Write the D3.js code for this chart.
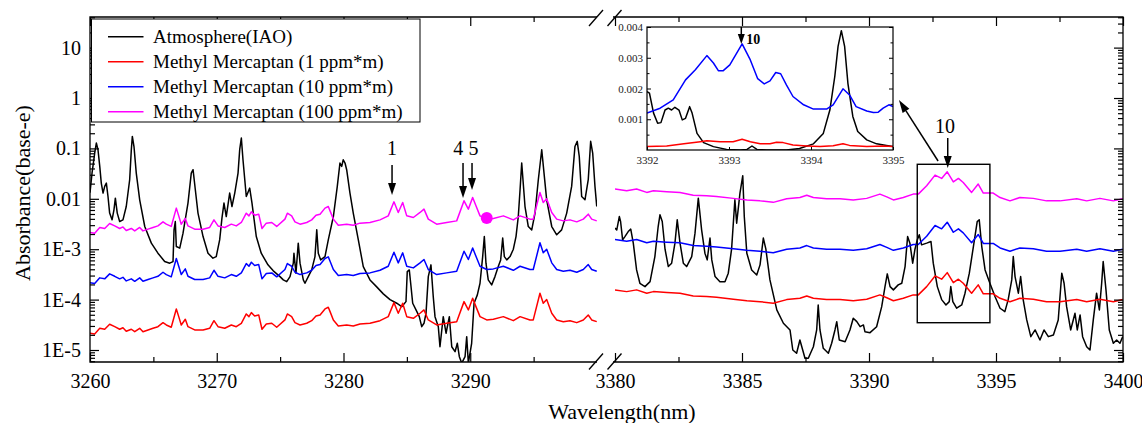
<!DOCTYPE html>
<html lang="en">
<head>
<meta charset="UTF-8">
<title>Absorbance spectra - Methyl Mercaptan</title>
<script src="https://cdn.jsdelivr.net/npm/d3@7"></script>
<style>
    body { margin: 0; background: #ffffff; }
    svg { display: block; font-family: 'Liberation Serif', 'Times New Roman', serif; }
    .axis path { display: none; }
    .axis line { stroke: #000; stroke-width: 1.2; }
    .axis text { font-size: 20px; fill: #000; font-family: 'Liberation Serif', 'Times New Roman', serif; }
    .inset .axis line { stroke-width: 1; }
    .inset .axis text { font-size: 11px; fill: #222; }
    .spec { fill: none; stroke-width: 1.5; stroke-linejoin: round; }
    .frame { fill: none; stroke: #000; stroke-width: 1.3; }
</style>
</head>
<body>
<svg id="chart" width="1142" height="423"></svg>
<script>
// ---------- data ----------
var seriesNames = ["Atmosphere(IAO)", "Methyl Mercaptan (1 ppm*m)", "Methyl Mercaptan (10 ppm*m)", "Methyl Mercaptan (100 ppm*m)"];
var seriesColors = ["#000000", "#ff0000", "#0000ff", "#ff00ff"];

var yTickValues = [1e-5, 1e-4, 1e-3, 1e-2, 0.1, 1, 10];
var yTickLabels = ["1E-5", "1E-4", "1E-3", "0.01", "0.1", "1", "10"];
var xTicksLeft = [3260, 3270, 3280, 3290];
var xTicksRight = [3380, 3385, 3390, 3395, 3400];

// atmosphere (IAO), left part [wavelength nm, absorbance]
var atmLeft = [
    [3260.00, 0.0132], [3260.16, 0.0324], [3260.37, 0.0809], [3260.50, 0.128], [3260.63, 0.0942],
    [3260.77, 0.0439], [3260.89, 0.0205], [3261.03, 0.0130], [3261.16, 0.0176], [3261.29, 0.0205],
    [3261.42, 0.0111], [3261.55, 0.0052], [3261.74, 0.00383], [3261.89, 0.00605], [3262.00, 0.0103],
    [3262.15, 0.0052], [3262.34, 0.00354], [3262.60, 0.00383], [3262.86, 0.00703], [3263.13, 0.0239],
    [3263.26, 0.0942], [3263.34, 0.173], [3263.47, 0.109], [3263.65, 0.0324], [3263.92, 0.00955],
    [3264.32, 0.00282], [3264.84, 0.00132], [3265.36, 0.000834], [3265.89, 0.000568], [3266.29, 0.000528],
    [3266.55, 0.000568], [3266.63, 0.00242], [3266.73, 0.00354], [3266.81, 0.00113], [3267.08, 0.00105],
    [3267.34, 0.00208], [3267.73, 0.00822], [3267.99, 0.0324], [3268.13, 0.0378], [3268.31, 0.0151],
    [3268.52, 0.0052], [3268.92, 0.00178], [3269.31, 0.000834], [3269.70, 0.000664], [3269.96, 0.000714],
    [3270.23, 0.00153], [3270.41, 0.00414], [3270.57, 0.00822], [3270.75, 0.00445], [3271.02, 0.0130],
    [3271.20, 0.00703], [3271.42, 0.0130], [3271.68, 0.0324], [3271.81, 0.0942], [3271.94, 0.161],
    [3272.07, 0.0596], [3272.33, 0.0111], [3272.60, 0.0163], [3272.78, 0.00822], [3273.12, 0.00178],
    [3273.51, 0.000834], [3274.04, 0.000489], [3274.46, 0.000372], [3274.99, 0.000286], [3275.25, 0.000246],
    [3275.52, 0.000227], [3275.78, 0.000286], [3276.04, 0.000528], [3276.09, 0.000834], [3276.25, 0.000334],
    [3276.43, 0.00132], [3276.57, 0.000528], [3276.83, 0.000246], [3276.96, 0.000211], [3277.22, 0.000286],
    [3277.49, 0.000388], [3277.75, 0.000714], [3277.89, 0.00242], [3278.01, 0.000834], [3278.20, 0.000614],
    [3278.54, 0.000714], [3278.80, 0.00153], [3279.20, 0.00445], [3279.51, 0.0176], [3279.72, 0.0513],
    [3279.86, 0.0439], [3279.98, 0.0596], [3280.12, 0.0513], [3280.25, 0.0378], [3280.51, 0.0130],
    [3280.77, 0.0052], [3281.17, 0.00153], [3281.56, 0.000452], [3282.09, 0.000246], [3282.62, 0.000179],
    [3283.14, 0.000130], [3283.67, 0.000100], [3284.20, 0.0000847], [3284.59, 0.0000725], [3284.93, 0.0000912],
    [3285.03, 0.000359], [3285.19, 0.000388], [3285.30, 0.000211], [3285.46, 0.0000847], [3285.72, 0.0000624],
    [3285.98, 0.0000459], [3286.17, 0.0000290], [3286.35, 0.0000339], [3286.51, 0.0000536], [3286.69, 0.000286],
    [3286.90, 0.000489], [3287.08, 0.000115], [3287.22, 0.0000459], [3287.48, 0.0000290], [3287.61, 0.0000116],
    [3287.87, 0.0000459], [3288.09, 0.0000215], [3288.35, 0.0000459], [3288.54, 0.0000116], [3288.80, 0.00000925],
    [3288.98, 0.0000136], [3289.14, 0.00000736], [3289.33, 0.0000055], [3289.59, 0.00000736], [3289.72, 0.0000184],
    [3289.85, 0.0000055], [3290.11, 0.0000136], [3290.30, 0.0000847], [3290.56, 0.000124], [3290.77, 0.000211],
    [3290.98, 0.000714], [3291.11, 0.00178], [3291.24, 0.000528], [3291.42, 0.000246], [3291.69, 0.000196],
    [3291.95, 0.000286], [3292.21, 0.000452], [3292.40, 0.000614], [3292.56, 0.00166], [3292.69, 0.000714],
    [3292.88, 0.000614], [3293.14, 0.000714], [3293.40, 0.00100], [3293.61, 0.00178], [3293.79, 0.00445],
    [3293.93, 0.0151], [3294.06, 0.0513], [3294.32, 0.00703], [3294.58, 0.00282], [3294.85, 0.00242],
    [3295.11, 0.0052], [3295.37, 0.0239], [3295.64, 0.0942], [3295.82, 0.0324], [3296.03, 0.00955],
    [3296.43, 0.00282], [3296.82, 0.00193], [3297.21, 0.00242], [3297.61, 0.0052], [3298.00, 0.0176],
    [3298.26, 0.109], [3298.44, 0.138], [3298.60, 0.0694], [3298.79, 0.0111], [3299.05, 0.00955],
    [3299.31, 0.0239], [3299.50, 0.138], [3299.66, 0.0809], [3299.84, 0.0176], [3299.98, 0.00703]
];

// atmosphere (IAO), right part
var atmRight = [
    [3380.00, 0.00262], [3380.07, 0.00242], [3380.17, 0.00445], [3380.22, 0.00354], [3380.30, 0.00153],
    [3380.39, 0.00178], [3380.52, 0.00224], [3380.62, 0.00250], [3380.72, 0.00132], [3380.85, 0.000388],
    [3380.98, 0.000211], [3381.18, 0.000181], [3381.38, 0.000227], [3381.57, 0.000714], [3381.70, 0.00282],
    [3381.77, 0.00481], [3381.86, 0.00354], [3381.97, 0.00100], [3382.10, 0.000452], [3382.23, 0.000528],
    [3382.36, 0.00132], [3382.45, 0.00383], [3382.56, 0.00132], [3382.69, 0.000528], [3382.82, 0.000452],
    [3383.02, 0.000714], [3383.15, 0.00208], [3383.28, 0.0103], [3383.41, 0.00242], [3383.54, 0.000834],
    [3383.63, 0.000614], [3383.74, 0.00166], [3383.81, 0.000614], [3383.94, 0.000286], [3384.13, 0.000227],
    [3384.33, 0.000227], [3384.46, 0.000334], [3384.59, 0.00100], [3384.72, 0.00955], [3384.79, 0.00329],
    [3384.92, 0.0130], [3385.03, 0.0287], [3385.09, 0.00445], [3385.19, 0.000834], [3385.38, 0.000388],
    [3385.58, 0.000309], [3385.71, 0.000489], [3385.84, 0.00166], [3385.94, 0.00100], [3386.10, 0.000246],
    [3386.37, 0.0000624], [3386.63, 0.0000339], [3386.89, 0.0000250], [3387.00, 0.0000100], [3387.15, 0.0000086],
    [3387.28, 0.0000158], [3387.39, 0.0000100], [3387.48, 0.00000684], [3387.61, 0.00000684], [3387.81, 0.0000116],
    [3387.94, 0.0000250], [3388.00, 0.0000784], [3388.07, 0.0000250], [3388.20, 0.0000108], [3388.40, 0.0000086],
    [3388.53, 0.0000136], [3388.66, 0.0000250], [3388.73, 0.0000365], [3388.83, 0.0000158], [3389.06, 0.0000146],
    [3389.25, 0.0000250], [3389.38, 0.0000426], [3389.52, 0.0000365], [3389.65, 0.0000290], [3389.78, 0.0000314],
    [3389.84, 0.0000231], [3390.04, 0.0000221], [3390.30, 0.0000290], [3390.50, 0.0000725], [3390.63, 0.000181],
    [3390.72, 0.000324], [3390.83, 0.000181], [3390.96, 0.000156], [3391.15, 0.000196], [3391.29, 0.000211],
    [3391.42, 0.000452], [3391.52, 0.00178], [3391.61, 0.00132], [3391.72, 0.000528], [3391.81, 0.00100],
    [3391.90, 0.00153], [3391.98, 0.00193], [3392.07, 0.00122], [3392.27, 0.00132], [3392.44, 0.00142],
    [3392.53, 0.000528], [3392.69, 0.000181], [3392.86, 0.000100], [3393.03, 0.0000784], [3393.16, 0.0000912],
    [3393.22, 0.000181], [3393.30, 0.0000912], [3393.45, 0.0000674], [3393.65, 0.0000784], [3393.78, 0.000134],
    [3393.95, 0.000334], [3394.11, 0.00113], [3394.26, 0.00354], [3394.34, 0.00383], [3394.44, 0.00113],
    [3394.57, 0.000388], [3394.76, 0.000211], [3394.96, 0.000115], [3395.16, 0.0000674], [3395.35, 0.0000577],
    [3395.48, 0.000100], [3395.62, 0.000246], [3395.68, 0.000714], [3395.75, 0.000286], [3395.88, 0.000134],
    [3395.97, 0.000286], [3396.07, 0.000100], [3396.21, 0.0000395], [3396.37, 0.0000184], [3396.54, 0.0000250],
    [3396.73, 0.0000158], [3396.89, 0.0000250], [3397.06, 0.0000184], [3397.26, 0.0000199], [3397.45, 0.0000395],
    [3397.59, 0.000334], [3397.68, 0.000211], [3397.78, 0.0000725], [3397.94, 0.0000250], [3398.11, 0.0000536],
    [3398.20, 0.0000250], [3398.31, 0.0000496], [3398.41, 0.0000184], [3398.57, 0.0000116], [3398.70, 0.0000100],
    [3398.83, 0.0000395], [3398.96, 0.000134], [3399.07, 0.0000624], [3399.16, 0.000211], [3399.22, 0.000568],
    [3399.33, 0.000156], [3399.46, 0.0000250], [3399.62, 0.0000136], [3399.75, 0.0000158], [3399.88, 0.0000136],
    [3399.99, 0.0000184]
];

// methyl mercaptan, left part (shared wavelengths)
var mmLeftWl = [
    3260.00, 3260.37, 3260.77, 3261.16, 3261.55, 3261.95, 3262.34, 3262.60, 3262.86, 3263.26,
    3263.53, 3263.92, 3264.18, 3264.58, 3264.97, 3265.36, 3265.76, 3266.02, 3266.41, 3266.81,
    3267.00, 3267.20, 3267.52, 3267.73, 3268.26, 3268.92, 3269.44, 3269.78, 3270.10, 3270.63,
    3271.15, 3271.54, 3271.94, 3272.33, 3272.54, 3272.73, 3272.99, 3273.31, 3273.57, 3273.91,
    3274.34, 3274.73, 3275.38, 3275.57, 3275.91, 3276.17, 3276.57, 3277.10, 3277.49, 3277.83,
    3278.15, 3278.54, 3278.80, 3278.94, 3279.20, 3279.59, 3280.25, 3280.77, 3281.30, 3282.09,
    3282.88, 3283.53, 3283.98, 3284.32, 3284.67, 3284.99, 3285.51, 3286.04, 3286.35, 3286.69,
    3287.35, 3288.14, 3288.93, 3289.51, 3289.85, 3290.19, 3290.45, 3290.77, 3291.30, 3291.82,
    3292.61, 3293.40, 3293.93, 3294.71, 3294.97, 3295.50, 3295.76, 3296.03, 3296.43, 3296.82,
    3297.34, 3297.87, 3298.40, 3298.92, 3299.31, 3299.58, 3299.98
];
var mm1Left = [
    2.15e-5, 2.08e-5, 2.70e-5, 2.58e-5, 3.24e-5, 2.90e-5, 2.58e-5, 2.77e-5, 2.35e-5, 2.58e-5,
    2.31e-5, 2.70e-5, 2.31e-5, 2.50e-5, 2.70e-5, 2.90e-5, 3.49e-5, 3.14e-5, 2.83e-5, 6.53e-5,
    4.59e-5, 3.14e-5, 4.07e-5, 2.90e-5, 2.50e-5, 2.50e-5, 2.70e-5, 3.82e-5, 2.90e-5, 2.70e-5,
    3.14e-5, 2.90e-5, 3.39e-5, 5.19e-5, 4.59e-5, 5.51e-5, 4.74e-5, 4.96e-5, 2.58e-5, 3.29e-5,
    3.39e-5, 2.83e-5, 3.95e-5, 5.19e-5, 4.59e-5, 3.49e-5, 3.14e-5, 3.39e-5, 3.82e-5, 4.74e-5,
    4.96e-5, 6.53e-5, 7.05e-5, 5.77e-5, 3.95e-5, 3.00e-5, 3.14e-5, 3.00e-5, 3.29e-5, 3.39e-5,
    3.82e-5, 4.59e-5, 8.71e-5, 5.36e-5, 8.47e-5, 4.59e-5, 4.26e-5, 5.36e-5, 6.24e-5, 3.95e-5,
    3.14e-5, 3.39e-5, 3.65e-5, 9.12e-5, 6.24e-5, 1.06e-4, 7.25e-5, 4.59e-5, 3.95e-5, 4.07e-5,
    4.59e-5, 3.82e-5, 4.59e-5, 3.95e-5, 3.95e-5, 1.34e-4, 8.47e-5, 1.00e-4, 5.36e-5, 3.95e-5,
    3.65e-5, 3.82e-5, 3.49e-5, 3.95e-5, 4.96e-5, 3.95e-5, 3.65e-5
];
var mm10Left = [
    2.15e-4, 2.08e-4, 2.70e-4, 2.58e-4, 3.24e-4, 2.90e-4, 2.58e-4, 2.77e-4, 2.35e-4, 2.58e-4,
    2.31e-4, 2.70e-4, 2.31e-4, 2.50e-4, 2.70e-4, 2.90e-4, 3.49e-4, 3.14e-4, 2.83e-4, 6.53e-4,
    4.59e-4, 3.14e-4, 4.07e-4, 2.90e-4, 2.50e-4, 2.50e-4, 2.70e-4, 3.82e-4, 2.90e-4, 2.70e-4,
    3.14e-4, 2.90e-4, 3.39e-4, 5.19e-4, 4.59e-4, 5.51e-4, 4.74e-4, 4.96e-4, 2.58e-4, 3.29e-4,
    3.39e-4, 2.83e-4, 3.95e-4, 5.19e-4, 4.59e-4, 3.49e-4, 3.14e-4, 3.39e-4, 3.82e-4, 4.74e-4,
    4.96e-4, 6.53e-4, 7.05e-4, 5.77e-4, 3.95e-4, 3.00e-4, 3.14e-4, 3.00e-4, 3.29e-4, 3.39e-4,
    3.82e-4, 4.59e-4, 8.71e-4, 5.36e-4, 8.47e-4, 4.59e-4, 4.26e-4, 5.36e-4, 6.24e-4, 3.95e-4,
    3.14e-4, 3.39e-4, 3.65e-4, 9.12e-4, 6.24e-4, 1.06e-3, 7.25e-4, 4.59e-4, 3.95e-4, 4.07e-4,
    4.59e-4, 3.82e-4, 4.59e-4, 3.95e-4, 3.95e-4, 1.34e-3, 8.47e-4, 1.00e-3, 5.36e-4, 3.95e-4,
    3.65e-4, 3.82e-4, 3.49e-4, 3.95e-4, 4.96e-4, 3.95e-4, 3.65e-4
];
var mm100Left = [
    2.15e-3, 2.08e-3, 2.70e-3, 2.58e-3, 3.24e-3, 2.90e-3, 2.58e-3, 2.77e-3, 2.35e-3, 2.58e-3,
    2.31e-3, 2.70e-3, 2.31e-3, 2.50e-3, 2.70e-3, 2.90e-3, 3.49e-3, 3.14e-3, 2.83e-3, 6.53e-3,
    4.59e-3, 3.14e-3, 4.07e-3, 2.90e-3, 2.50e-3, 2.50e-3, 2.70e-3, 3.82e-3, 2.90e-3, 2.70e-3,
    3.14e-3, 2.90e-3, 3.39e-3, 5.19e-3, 4.59e-3, 5.51e-3, 4.74e-3, 4.96e-3, 2.58e-3, 3.29e-3,
    3.39e-3, 2.83e-3, 3.95e-3, 5.19e-3, 4.59e-3, 3.49e-3, 3.14e-3, 3.39e-3, 3.82e-3, 4.74e-3,
    4.96e-3, 6.53e-3, 7.05e-3, 5.77e-3, 3.95e-3, 3.00e-3, 3.14e-3, 3.00e-3, 3.29e-3, 3.39e-3,
    3.82e-3, 4.59e-3, 8.71e-3, 5.36e-3, 8.47e-3, 4.59e-3, 4.26e-3, 5.36e-3, 6.24e-3, 3.95e-3,
    3.14e-3, 3.39e-3, 3.65e-3, 9.12e-3, 6.24e-3, 1.06e-2, 7.25e-3, 4.59e-3, 3.95e-3, 4.07e-3,
    4.59e-3, 3.82e-3, 4.59e-3, 3.95e-3, 3.95e-3, 1.34e-2, 8.47e-3, 1.00e-2, 5.36e-3, 3.95e-3,
    3.65e-3, 3.82e-3, 3.49e-3, 3.95e-3, 4.96e-3, 3.95e-3, 3.65e-3
];

// methyl mercaptan, right part (shared wavelengths)
var mmRightWl = [
    3380.00, 3380.46, 3380.85, 3381.25, 3381.51, 3382.04, 3382.56, 3383.08, 3383.61, 3384.00,
    3384.66, 3385.19, 3385.71, 3386.23, 3386.76, 3387.28, 3387.55, 3387.81, 3388.33, 3388.86,
    3389.38, 3389.91, 3390.43, 3390.70, 3390.96, 3391.35, 3391.74, 3391.94, 3392.27, 3392.60,
    3392.86, 3393.08, 3393.32, 3393.52, 3393.71, 3394.04, 3394.30, 3394.50, 3394.89, 3395.16,
    3395.55, 3395.94, 3396.47, 3396.99, 3397.52, 3398.18, 3398.57, 3399.09, 3399.62, 3399.99
];
var mm1Right = [
    1.56e-4, 1.44e-4, 1.56e-4, 1.34e-4, 1.44e-4, 1.38e-4, 1.34e-4, 1.18e-4, 1.15e-4, 1.11e-4,
    1.02e-4, 9.5e-5, 9.1e-5, 8.5e-5, 1.00e-4, 1.06e-4, 1.18e-4, 1.06e-4, 1.00e-4, 1.00e-4,
    9.5e-5, 1.02e-4, 1.24e-4, 1.09e-4, 9.5e-5, 1.06e-4, 1.24e-4, 1.24e-4, 1.81e-4, 2.95e-4,
    2.54e-4, 3.43e-4, 2.17e-4, 2.54e-4, 2.11e-4, 1.34e-4, 1.96e-4, 1.30e-4, 1.30e-4, 1.06e-4,
    9.1e-5, 1.06e-4, 1.02e-4, 9.1e-5, 9.1e-5, 1.00e-4, 9.1e-5, 1.02e-4, 9.1e-5, 1.00e-4
];
var mm10Right = [
    1.56e-3, 1.44e-3, 1.56e-3, 1.34e-3, 1.44e-3, 1.38e-3, 1.34e-3, 1.18e-3, 1.15e-3, 1.11e-3,
    1.02e-3, 9.5e-4, 9.1e-4, 8.5e-4, 1.00e-3, 1.06e-3, 1.18e-3, 1.06e-3, 1.00e-3, 1.00e-3,
    9.5e-4, 1.02e-3, 1.24e-3, 1.09e-3, 9.5e-4, 1.06e-3, 1.24e-3, 1.24e-3, 1.81e-3, 2.95e-3,
    2.54e-3, 3.43e-3, 2.17e-3, 2.54e-3, 2.11e-3, 1.34e-3, 1.96e-3, 1.30e-3, 1.30e-3, 1.06e-3,
    9.1e-4, 1.06e-3, 1.02e-3, 9.1e-4, 9.1e-4, 1.00e-3, 9.1e-4, 1.02e-3, 9.1e-4, 1.00e-3
];
var mm100Right = [
    1.56e-2, 1.44e-2, 1.56e-2, 1.34e-2, 1.44e-2, 1.38e-2, 1.34e-2, 1.18e-2, 1.15e-2, 1.11e-2,
    1.02e-2, 9.5e-3, 9.1e-3, 8.5e-3, 1.00e-2, 1.06e-2, 1.18e-2, 1.06e-2, 1.00e-2, 1.00e-2,
    9.5e-3, 1.02e-2, 1.24e-2, 1.09e-2, 9.5e-3, 1.06e-2, 1.24e-2, 1.24e-2, 1.81e-2, 2.95e-2,
    2.54e-2, 3.43e-2, 2.17e-2, 2.54e-2, 2.11e-2, 1.34e-2, 1.96e-2, 1.30e-2, 1.30e-2, 1.06e-2,
    9.1e-3, 1.06e-2, 1.02e-2, 9.1e-3, 9.1e-3, 1.00e-2, 9.1e-3, 1.02e-2, 9.1e-3, 1.00e-2
];

// inset (linear scale) 3392-3395 nm
var insetAtm = [
    [3392.00, 0.00190], [3392.03, 0.00185], [3392.08, 0.00120], [3392.13, 0.00087], [3392.17, 0.00089],
    [3392.22, 0.00130], [3392.26, 0.00136], [3392.30, 0.00130], [3392.34, 0.00139], [3392.39, 0.00130],
    [3392.43, 0.00098], [3392.47, 0.00103], [3392.52, 0.00141], [3392.55, 0.00120], [3392.61, 0.00054],
    [3392.69, 0.00024], [3392.81, 0.00011], [3392.97, 0.00002], [3393.14, 0.00000], [3393.22, 0.00002],
    [3393.28, 0.00013], [3393.34, 0.00002], [3393.46, 0.00000], [3393.70, 0.00000], [3393.86, 0.00005],
    [3394.03, 0.00020], [3394.15, 0.00054], [3394.23, 0.00130], [3394.29, 0.00239], [3394.33, 0.00337],
    [3394.37, 0.00388], [3394.41, 0.00337], [3394.45, 0.00217], [3394.51, 0.00109], [3394.57, 0.00060],
    [3394.68, 0.00033], [3394.80, 0.00020], [3394.92, 0.00015], [3395.00, 0.00011]
];
var insetMm1 = [
    [3392.00, 0.00011], [3392.24, 0.00013], [3392.45, 0.00020], [3392.65, 0.00027], [3392.73, 0.00030],
    [3392.89, 0.00027], [3393.05, 0.00027], [3393.16, 0.00035], [3393.26, 0.00027], [3393.38, 0.00020],
    [3393.50, 0.00020], [3393.58, 0.00025], [3393.66, 0.00024], [3393.78, 0.00016], [3393.95, 0.00013],
    [3394.11, 0.00011], [3394.27, 0.00014], [3394.39, 0.00020], [3394.47, 0.00015], [3394.68, 0.00011],
    [3394.88, 0.00013], [3395.00, 0.00011]
];
var insetMm10 = [
    [3392.00, 0.00120], [3392.16, 0.00136], [3392.32, 0.00163], [3392.47, 0.00228], [3392.59, 0.00261],
    [3392.73, 0.00307], [3392.81, 0.00283], [3392.87, 0.00258], [3392.93, 0.00258], [3393.01, 0.00277],
    [3393.16, 0.00345], [3393.26, 0.00293], [3393.35, 0.00232], [3393.43, 0.00215], [3393.50, 0.00225],
    [3393.57, 0.00252], [3393.63, 0.00248], [3393.70, 0.00212], [3393.78, 0.00174], [3393.91, 0.00147],
    [3394.03, 0.00133], [3394.19, 0.00133], [3394.27, 0.00147], [3394.39, 0.00199], [3394.47, 0.00179],
    [3394.55, 0.00141], [3394.68, 0.00127], [3394.76, 0.00122], [3394.82, 0.00123], [3394.88, 0.00136],
    [3394.95, 0.00147], [3395.00, 0.00141]
];
var insetYTicks = [0.001, 0.002, 0.003, 0.004];
var insetXTicks = [3392, 3393, 3394, 3395];

// annotations: peak numbers with arrows
var peakLabels = ["1", "4", "5"];
var peakLabelWl = [3283.83, 3289.05, 3290.25];
var peakArrowWl = [3283.83, 3289.43, 3290.14];
var peakArrowTop = [0.0467, 0.0512, 0.0512];
var peakArrowTip = [0.0119, 0.0104, 0.0150];
var markerPoint = [3291.3, 0.00414];
var zoomBox = [3391.90, 3394.76, 3.48e-5, 0.0484];

// ---------- layout ----------
var svg = d3.select("#chart");
var plotTop = 17, plotBottom = 362, plotLeft = 90, plotRight = 1123;

var xL = d3.scaleLinear().domain([3260, 3300]).range([plotLeft, 597]);
var xR = d3.scaleLinear().domain([3380, 3400]).range([615, plotRight]);
var y = d3.scaleLog().domain([5.78e-6, 40.5]).range([plotBottom, plotTop]);

var defs = svg.append("defs");
defs.append("clipPath").attr("id", "clipL").append("rect")
    .attr("x", xL.range()[0]).attr("y", plotTop)
    .attr("width", xL.range()[1] - xL.range()[0]).attr("height", plotBottom - plotTop);
defs.append("clipPath").attr("id", "clipR").append("rect")
    .attr("x", xR.range()[0]).attr("y", plotTop)
    .attr("width", xR.range()[1] - xR.range()[0]).attr("height", plotBottom - plotTop);

// minor log ticks
var minorY = [];
[1e-6, 1e-5, 1e-4, 1e-3, 1e-2, 0.1, 1, 10].forEach(function (dec) {
    for (var k = 2; k <= 9; k++) {
        var v = dec * k;
        if (v > y.domain()[0] && v < y.domain()[1]) minorY.push(v);
    }
});

// ---------- curves ----------
function drawPanel(x, clipId, atm, wl, mm1, mm10, mm100) {
    var line = d3.line().x(d => x(d[0])).y(d => y(d[1]));
    var g = svg.append("g").attr("clip-path", "url(#" + clipId + ")");
    var sets = [atm, d3.zip(wl, mm1), d3.zip(wl, mm10), d3.zip(wl, mm100)];
    sets.forEach(function (s, i) {
        g.append("path")
            .datum(s)
            .attr("class", "spec")
            .attr("stroke", seriesColors[i])
            .attr("d", line);
    });
}
drawPanel(xL, "clipL", atmLeft, mmLeftWl, mm1Left, mm10Left, mm100Left);
drawPanel(xR, "clipR", atmRight, mmRightWl, mm1Right, mm10Right, mm100Right);

svg.append("circle")
    .attr("cx", xL(markerPoint[0]))
    .attr("cy", y(markerPoint[1]))
    .attr("r", 6)
    .attr("fill", seriesColors[3]);

// ---------- axes ----------
// left y axis
svg.append("g").attr("class", "axis")
    .attr("transform", "translate(" + plotLeft + ",0)")
    .call(d3.axisLeft(y).tickValues(yTickValues)
        .tickFormat((d, i) => yTickLabels[i])
        .tickSizeInner(-9).tickSizeOuter(0).tickPadding(9));
svg.append("g").attr("class", "axis")
    .attr("transform", "translate(" + plotLeft + ",0)")
    .call(d3.axisLeft(y).tickValues(minorY).tickFormat("").tickSize(-5));

// right y axis
svg.append("g").attr("class", "axis")
    .attr("transform", "translate(" + plotRight + ",0)")
    .call(d3.axisRight(y).tickValues(yTickValues).tickFormat("").tickSize(-9));
svg.append("g").attr("class", "axis")
    .attr("transform", "translate(" + plotRight + ",0)")
    .call(d3.axisRight(y).tickValues(minorY).tickFormat("").tickSize(-5));

function xAxes(x, majors) {
    var minors = majors.slice(0, -1).map((d, i) => (d + majors[i + 1]) / 2);
    if (x === xL) minors.push(3295);
    svg.append("g").attr("class", "axis")
        .attr("transform", "translate(0," + plotBottom + ")")
        .call(d3.axisBottom(x).tickValues(majors).tickFormat(d3.format("d"))
            .tickSizeInner(-9).tickSizeOuter(0).tickPadding(12));
    svg.append("g").attr("class", "axis")
        .attr("transform", "translate(0," + plotBottom + ")")
        .call(d3.axisBottom(x).tickValues(minors).tickFormat("").tickSize(-5));
    svg.append("g").attr("class", "axis")
        .attr("transform", "translate(0," + plotTop + ")")
        .call(d3.axisTop(x).tickValues(majors).tickFormat("").tickSize(-9));
    svg.append("g").attr("class", "axis")
        .attr("transform", "translate(0," + plotTop + ")")
        .call(d3.axisTop(x).tickValues(minors).tickFormat("").tickSize(-5));
}
xAxes(xL, xTicksLeft);
xAxes(xR, xTicksRight);

// frame with a gap for the axis break
var gapL = xL.range()[1], gapR = xR.range()[0] - 2;
svg.append("path").attr("class", "frame")
    .attr("d", "M" + gapL + "," + plotTop + "H" + plotLeft + "V" + plotBottom + "H" + gapL +
        "M" + gapR + "," + plotTop + "H" + plotRight + "V" + plotBottom + "H" + gapR);

// break marks
[596, 614.5].forEach(function (cx) {
    [plotTop + 1, plotBottom - 0.5].forEach(function (cy) {
        svg.append("line")
            .attr("x1", cx - 7).attr("y1", cy + 8)
            .attr("x2", cx + 7).attr("y2", cy - 8)
            .attr("stroke", "#000").attr("stroke-width", 1.4);
    });
});

// axis titles
svg.append("text")
    .attr("x", 622).attr("y", 419)
    .attr("text-anchor", "middle")
    .style("font-size", "22px")
    .text("Wavelength(nm)");
svg.append("text")
    .attr("transform", "translate(22,193) rotate(-90)")
    .attr("text-anchor", "middle")
    .attr("dominant-baseline", "central")
    .style("font-size", "22px")
    .text("Absorbance(base-e)");

// ---------- annotations ----------
function arrow(x1, y1, x2, y2, headLen, headW) {
    var ang = Math.atan2(y2 - y1, x2 - x1);
    var bx = x2 - headLen * Math.cos(ang), by = y2 - headLen * Math.sin(ang);
    var px = -Math.sin(ang) * headW / 2, py = Math.cos(ang) * headW / 2;
    svg.append("line")
        .attr("x1", x1).attr("y1", y1).attr("x2", bx).attr("y2", by)
        .attr("stroke", "#000").attr("stroke-width", 1.5);
    svg.append("path")
        .attr("d", "M" + x2 + "," + y2 + "L" + (bx + px) + "," + (by + py) + "L" + (bx - px) + "," + (by - py) + "Z")
        .attr("fill", "#000");
}

peakLabels.forEach(function (lab, i) {
    svg.append("text")
        .attr("x", xL(peakLabelWl[i])).attr("y", 155)
        .attr("text-anchor", "middle")
        .style("font-size", "20px")
        .text(lab);
    arrow(xL(peakArrowWl[i]), y(peakArrowTop[i]), xL(peakArrowWl[i]), y(peakArrowTip[i]), 12, 8);
});

// peak 10 on the right panel
svg.append("text")
    .attr("x", xR(3392.99)).attr("y", 133)
    .attr("text-anchor", "middle")
    .style("font-size", "20px")
    .text("10");
arrow(xR(3393.10), y(0.161), xR(3393.10), y(0.0407), 12, 8);

svg.append("rect")
    .attr("x", xR(zoomBox[0])).attr("y", y(zoomBox[3]))
    .attr("width", xR(zoomBox[1]) - xR(zoomBox[0]))
    .attr("height", y(zoomBox[2]) - y(zoomBox[3]))
    .attr("fill", "none").attr("stroke", "#000").attr("stroke-width", 1.4);

arrow(xR(3392.72), y(0.0562), xR(3391.18), y(0.913), 13, 8);

// ---------- inset ----------
var xI = d3.scaleLinear().domain([3392, 3395]).range([647, 893]);
var yI = d3.scaleLinear().domain([0, 0.004]).range([150, 27]);
var inset = svg.append("g").attr("class", "inset");
inset.append("rect")
    .attr("x", 647).attr("y", 27).attr("width", 246).attr("height", 123)
    .attr("fill", "#fff");
defs.append("clipPath").attr("id", "clipI").append("rect")
    .attr("x", 647).attr("y", 27).attr("width", 246).attr("height", 123);

var insetLine = d3.line().x(d => xI(d[0])).y(d => yI(d[1]));
var ig = inset.append("g").attr("clip-path", "url(#clipI)");
[insetAtm, insetMm1, insetMm10].forEach(function (s, i) {
    ig.append("path")
        .datum(s)
        .attr("class", "spec")
        .attr("stroke", seriesColors[i])
        .attr("stroke-width", 1.5)
        .attr("d", insetLine);
});

var insetMinorY = d3.range(0.0005, 0.004, 0.001);
inset.append("g").attr("class", "axis")
    .attr("transform", "translate(647,0)")
    .call(d3.axisLeft(yI).tickValues(insetYTicks).tickFormat(d3.format(".3f"))
        .tickSizeInner(-4).tickSizeOuter(0).tickPadding(4));
inset.append("g").attr("class", "axis")
    .attr("transform", "translate(647,0)")
    .call(d3.axisLeft(yI).tickValues(insetMinorY).tickFormat("").tickSize(-2.5));
inset.append("g").attr("class", "axis")
    .attr("transform", "translate(893,0)")
    .call(d3.axisRight(yI).tickValues(insetYTicks).tickFormat("").tickSize(-4));
inset.append("g").attr("class", "axis")
    .attr("transform", "translate(893,0)")
    .call(d3.axisRight(yI).tickValues(insetMinorY).tickFormat("").tickSize(-2.5));
inset.append("g").attr("class", "axis")
    .attr("transform", "translate(0,150)")
    .call(d3.axisBottom(xI).tickValues(insetXTicks).tickFormat(d3.format("d"))
        .tickSizeInner(-3).tickSizeOuter(0).tickPadding(6));
inset.append("rect")
    .attr("x", 647).attr("y", 27).attr("width", 246).attr("height", 123)
    .attr("fill", "none").attr("stroke", "#000").attr("stroke-width", 1.2);

inset.append("line")
    .attr("x1", xI(3393.15)).attr("y1", 27)
    .attr("x2", xI(3393.15)).attr("y2", 35)
    .attr("stroke", "#000").attr("stroke-width", 1.5);
inset.append("path")
    .attr("d", "M" + xI(3393.15) + ",44L" + (xI(3393.15) - 3.5) + ",34L" + (xI(3393.15) + 3.5) + ",34Z")
    .attr("fill", "#000");
inset.append("text")
    .attr("x", xI(3393.15) + 5).attr("y", 44)
    .style("font-size", "14px").style("font-weight", "bold")
    .text("10");

// ---------- legend ----------
var legend = svg.append("g");
legend.append("rect")
    .attr("x", 91.5).attr("y", 19).attr("width", 328.5).attr("height", 103)
    .attr("fill", "#fff").attr("stroke", "#000").attr("stroke-width", 1);
seriesNames.forEach(function (name, i) {
    var ly = 36.7 + i * 25;
    legend.append("line")
        .attr("x1", 108).attr("x2", 143.5).attr("y1", ly).attr("y2", ly)
        .attr("stroke", seriesColors[i]).attr("stroke-width", 1.5);
    legend.append("text")
        .attr("x", 153).attr("y", ly)
        .attr("dy", "0.33em")
        .style("font-size", "19px")
        .text(name);
});
</script>
</body>
</html>
